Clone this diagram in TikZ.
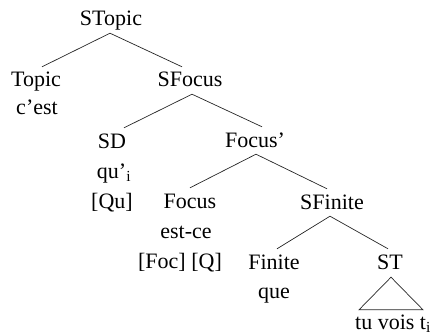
\documentclass[tikz,border=0pt]{standalone}
\usepackage{fontspec}
\setmainfont{Liberation Serif}
\usetikzlibrary{calc}
\tikzset{
  lbl/.style={anchor=base, inner sep=0pt, text height=20pt, text depth=7pt, font=\fontsize{22}{29}\selectfont},
  edge/.style={draw=black!85, line width=0.7pt}
}
\begin{document}
\begin{tikzpicture}[x=1pt,y=-1pt]
\useasboundingbox (0,0) rectangle (436,334);
% labels
\node[lbl] (stopic) at (111,26) {STopic};
\node[lbl] (topic) at (36,87) {Topic};
\node[lbl] (cest) at (37,115) {c’est};
\node[lbl] (sfocus) at (190,87) {SFocus};
\node[lbl] (sd) at (112,148) {SD};
\node[lbl] (qu) at (114,178) {qu’\textsubscript{i}};
\node[lbl] (qufeat) at (112,208) {[Qu]};
\node[lbl] (focusbar) at (255,147) {Focus’};
\node[lbl] (focus) at (190,208) {Focus};
\node[lbl] (estce) at (186,238) {est-ce};
\node[lbl] (foc) at (180,268) {[Foc] [Q]};
\node[lbl] (sfinite) at (332,209) {SFinite};
\node[lbl] (finite) at (274,269) {Finite};
\node[lbl] (que) at (274,298) {que};
\node[lbl] (st) at (390,269) {ST};
\node[lbl] (tv) at (393,329) {tu vois t\textsubscript{i}};
% edges
\draw[edge] ($(stopic.south)+(-1,0)$) -- ($(topic.north)+(6,0)$);
\draw[edge] ($(stopic.south)+(-1,0)$) -- ($(sfocus.north)+(-8,0)$);
\draw[edge] ($(sfocus.south)+(2,0)$) -- ($(sd.north)+(12,0)$);
\draw[edge] ($(sfocus.south)+(2,0)$) -- ($(focusbar.north)+(7,0)$);
\draw[edge] ($(focusbar.south)+(1,0)$) -- (focus.north);
\draw[edge] ($(focusbar.south)+(1,0)$) -- ($(sfinite.north)+(-5,0)$);
\draw[edge] ($(sfinite.south)+(-2,0)$) -- ($(finite.north)+(3,0)$);
\draw[edge] ($(sfinite.south)+(-2,0)$) -- ($(st.north)+(-2,0)$);
\draw[edge] ($(st.south)+(1,1)$) -- ($(tv.north)+(-34,1)$) -- ($(tv.north)+(30,1)$) -- cycle;
\end{tikzpicture}
\end{document}
